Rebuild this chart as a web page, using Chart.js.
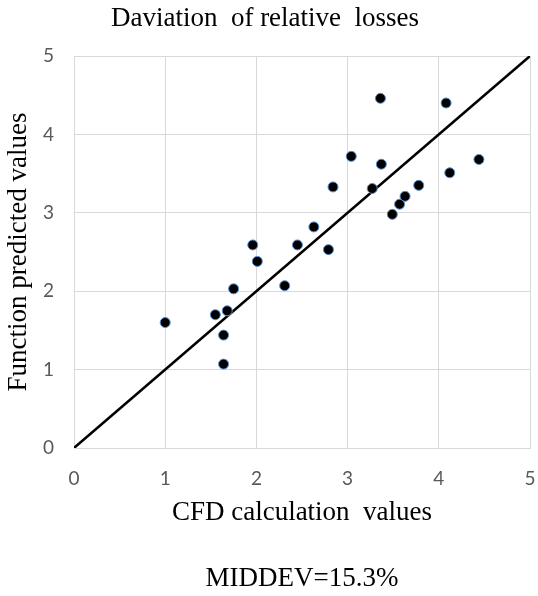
<!DOCTYPE html>
<html>
<head>
<meta charset="utf-8">
<title>Daviation of relative losses</title>
<script src="https://cdn.jsdelivr.net/npm/chart.js@4.4.1/dist/chart.umd.min.js"></script>
<style>
    html, body { margin: 0; padding: 0; background: #ffffff; }
    #wrap { width: 538px; height: 596px; position: relative; }
</style>
</head>
<body>
<div id="wrap"><canvas id="devChart"></canvas></div>
<script>
    // data
    const cfdValues = [1.00, 1.55, 1.68, 1.64, 1.64, 1.75, 1.96, 2.01, 2.31, 2.45, 2.63, 2.79,
                       2.84, 3.04, 3.27, 3.37, 3.36, 3.49, 3.57, 3.63, 3.78, 4.08, 4.12, 4.44];
    const predictedValues = [1.60, 1.70, 1.75, 1.44, 1.07, 2.03, 2.59, 2.38, 2.07, 2.59, 2.82, 2.53,
                             3.33, 3.72, 3.31, 3.62, 4.46, 2.98, 3.11, 3.21, 3.35, 4.40, 3.51, 3.68];
    const diagonalX = [0, 5];
    const diagonalY = [0, 5];
    const axisMin = 0;
    const axisMax = 5;

    const serif = "'Liberation Serif', 'Times New Roman', serif";
    const tickFont = { family: "Lato, 'Open Sans', sans-serif", size: 19 };

    const ctx = document.getElementById('devChart');
    if (ctx) {
        new Chart(ctx.getContext('2d'), {
            type: 'scatter',
            data: {
                datasets: [
                    {
                        label: 'points',
                        data: cfdValues.map((x, i) => ({ x: x, y: predictedValues[i] })),
                        backgroundColor: '#000000',
                        borderColor: '#5b8fd0',
                        borderWidth: 1,
                        pointRadius: 5
                    },
                    {
                        label: 'y = x',
                        type: 'line',
                        data: diagonalX.map((x, i) => ({ x: x, y: diagonalY[i] })),
                        borderColor: '#000000',
                        borderWidth: 2.5,
                        pointRadius: 0,
                        fill: false
                    }
                ]
            },
            options: {
                responsive: true,
                maintainAspectRatio: false,
                animation: false,
                layout: { padding: { top: 0, right: 8, bottom: 0, left: 0 } },
                scales: {
                    x: {
                        type: 'linear',
                        min: axisMin,
                        max: axisMax,
                        border: { color: '#d9d9d9' },
                        grid: { color: '#d9d9d9', drawTicks: false },
                        ticks: { stepSize: 1, padding: 19, color: '#595959', font: tickFont },
                        title: {
                            display: true,
                            text: 'CFD calculation  values',
                            color: '#000000',
                            font: { family: serif, size: 27 },
                            padding: { top: 0, bottom: 0 }
                        },
                        afterFit: function (scale) {
                            scale.height = 81;
                            scale.paddingRight = 0;
                        }
                    },
                    y: {
                        type: 'linear',
                        min: axisMin,
                        max: axisMax,
                        border: { color: '#d9d9d9' },
                        grid: { color: '#d9d9d9', drawTicks: false },
                        ticks: { stepSize: 1, padding: 20, color: '#595959', font: tickFont },
                        title: {
                            display: true,
                            text: 'Function predicted values',
                            color: '#000000',
                            font: { family: serif, size: 27 },
                            padding: { top: 3, bottom: 0 }
                        },
                        afterFit: function (scale) { scale.width = 74; }
                    }
                },
                plugins: {
                    legend: { display: false },
                    tooltip: { enabled: false },
                    title: {
                        display: true,
                        text: 'Daviation  of relative  losses',
                        color: '#000000',
                        font: { family: serif, size: 27, weight: 'normal' },
                        padding: { top: 3, bottom: 20.6 }
                    },
                    subtitle: {
                        display: true,
                        position: 'bottom',
                        fullSize: false,
                        text: 'MIDDEV=15.3%',
                        color: '#000000',
                        font: { family: serif, size: 27 },
                        padding: { top: 33.6, bottom: 1 }
                    }
                }
            }
        });
    }
</script>
</body>
</html>
